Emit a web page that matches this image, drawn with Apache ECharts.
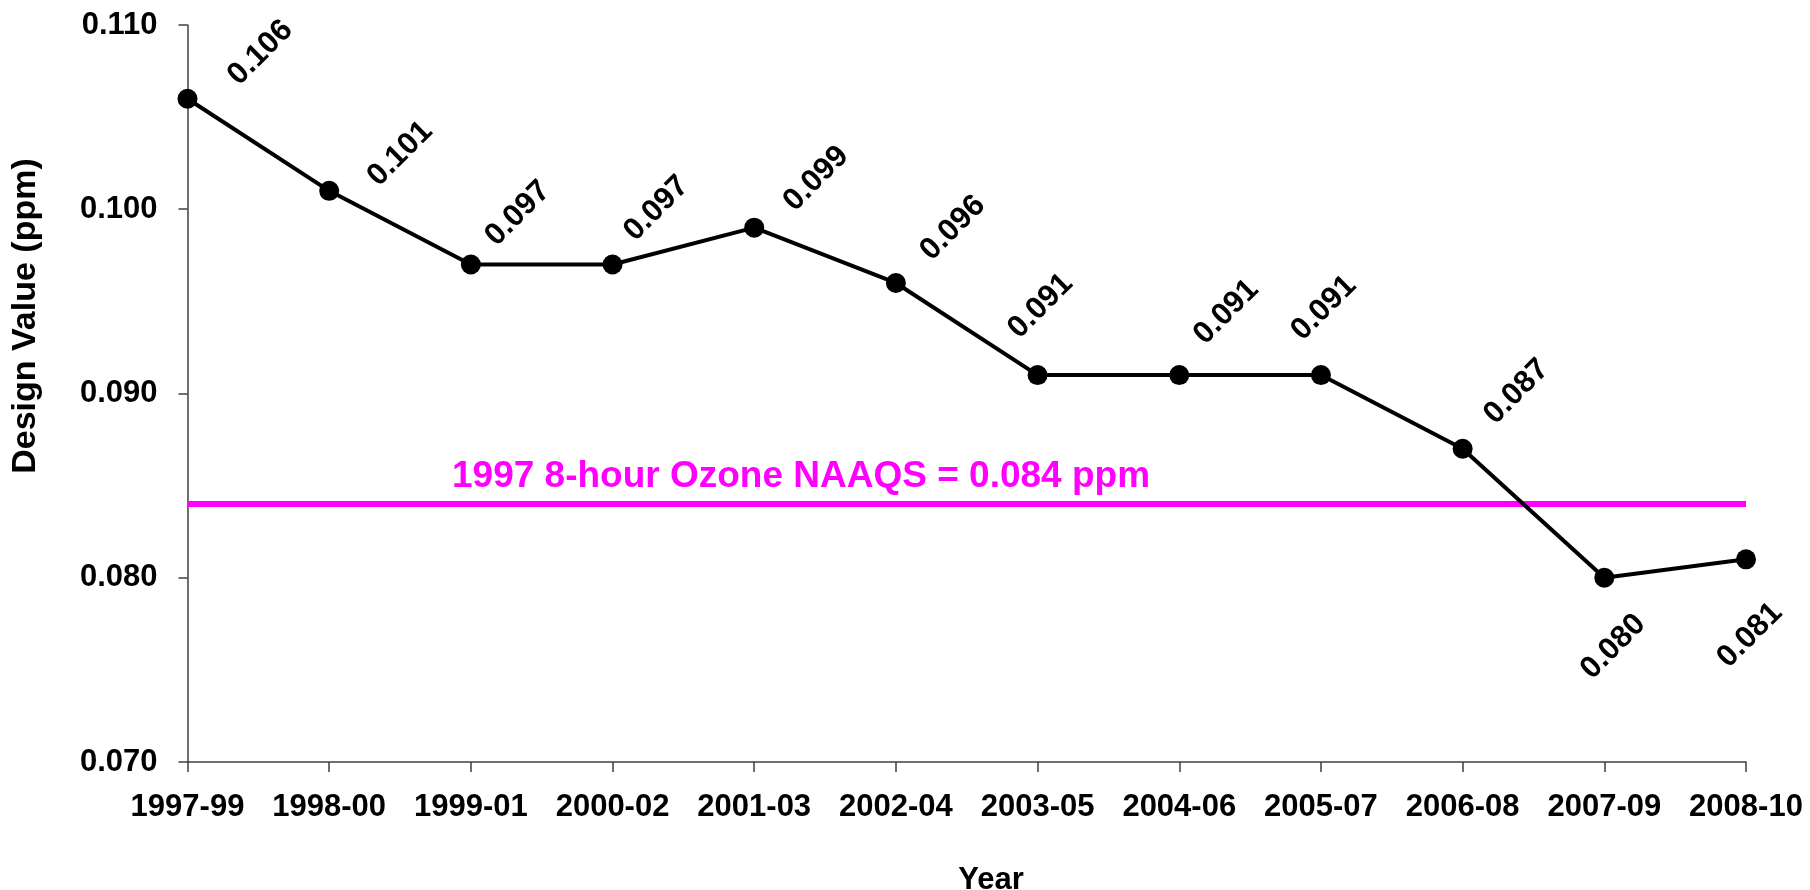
<!DOCTYPE html>
<html>
<head>
<meta charset="utf-8">
<script src="https://cdn.jsdelivr.net/npm/echarts@6/dist/echarts.min.js"></script>
<style>
html,body{margin:0;padding:0;background:#fff;}
#chart{width:1810px;height:890px;}
</style>
</head>
<body>
<div id="chart"></div>
<script>
const categories = ['1997-99','1998-00','1999-01','2000-02','2001-03','2002-04','2003-05','2004-06','2005-07','2006-08','2007-09','2008-10'];
const designValues = [0.106,0.101,0.097,0.097,0.099,0.096,0.091,0.091,0.091,0.087,0.080,0.081];
const standardValue = 0.084;
const standardLabel = '1997 8-hour Ozone NAAQS = 0.084 ppm';
const yAxisTitle = 'Design Value (ppm)';
const xAxisTitle = 'Year';

// label placement (pixels from point centre to label centre)
const labelOffsets = [[73,-46],[71,-37],[47,-51],[44,-56],[62,-49],[57,-55],[3,-69],[47,-63],[3,-67],[54,-57],[9,69],[4,76]];

const FONT = '"Liberation Sans", Arial, sans-serif';
const chart = echarts.init(document.getElementById('chart'), null, {renderer:'canvas'});
chart.setOption({
  animation:false,
  backgroundColor:'#ffffff',
  grid:{left:187.5, right:64, top:25, bottom:128, containLabel:false},
  xAxis:{
    type:'category', data:categories, boundaryGap:false,
    axisLine:{lineStyle:{color:'#404040', width:1.5}},
    axisTick:{show:true, length:10, alignWithLabel:true, lineStyle:{color:'#404040', width:1.5}},
    axisLabel:{color:'#000', fontSize:31, fontWeight:'bold', fontFamily:FONT, margin:30, interval:0},
    splitLine:{show:false}
  },
  yAxis:{
    type:'value', min:0.07, max:0.11, interval:0.01,
    axisLine:{show:true, lineStyle:{color:'#404040', width:1.5}},
    axisTick:{show:true, length:9, lineStyle:{color:'#404040', width:1.5}},
    axisLabel:{color:'#000', fontSize:31, fontWeight:'bold', fontFamily:FONT, margin:30,
      formatter:function(v){return v.toFixed(3);}},
    splitLine:{show:false}
  },
  series:[{
    type:'line',
    data:[[categories[0], standardValue],[categories[categories.length-1], standardValue]],
    symbol:'none', silent:true,
    lineStyle:{color:'#FF00FF', width:6},
    z:2
  },{
    type:'line', data:designValues,
    symbol:'circle', symbolSize:20,
    itemStyle:{color:'#000'},
    lineStyle:{color:'#000', width:4},
    label:{show:true, position:'inside', rotate:45, color:'#000', fontSize:31, fontWeight:'bold', fontFamily:FONT,
      align:'center', verticalAlign:'middle',
      formatter:function(p){return p.value.toFixed(3);}},
    labelLayout:function(p){
      const o = labelOffsets[p.dataIndex];
      return {x:p.rect.x + p.rect.width/2 + o[0], y:p.rect.y + p.rect.height/2 + o[1], rotate:45, align:'center', verticalAlign:'middle'};
    },
    z:3
  }],
  graphic:[
    {type:'text', left:452, top:458, style:{text:standardLabel, fill:'#FF00FF', fontSize:37, fontWeight:'bold', fontFamily:FONT}},
    {type:'text', x:26, y:316, rotation:Math.PI/2, style:{text:yAxisTitle, fill:'#000', fontSize:34, fontWeight:'bold', fontFamily:FONT, align:'center', verticalAlign:'middle'}},
    {type:'text', x:991, y:880, style:{text:xAxisTitle, fill:'#000', fontSize:31, fontWeight:'bold', fontFamily:FONT, align:'center', verticalAlign:'middle'}}
  ]
});
</script>
</body>
</html>
